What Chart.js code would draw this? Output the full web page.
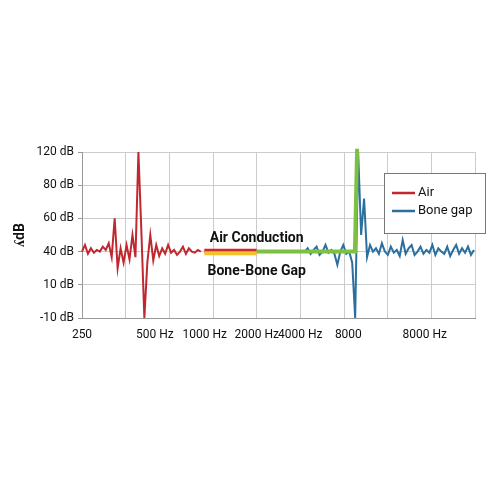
<!DOCTYPE html><html><head><script src="https://cdn.jsdelivr.net/npm/chart.js@4"></script>
<style>body{margin:0;background:#fff}#w{width:500px;height:500px}</style></head><body><div id="w"><canvas id="c"></canvas></div>
<script>
const yTickLabels=['-10 dB','10 dB','40 dB','60 dB','80 dB','120 dB'];
const yTickDb=[-10,10,40,60,80,120];
const xTickLabels=['250','500 Hz','1000 Hz','2000 Hz','4000 Hz','8000','8000 Hz'];
const xTickPos=[0,1.67,2.81,4.0,5.0,6.1,7.85];
const airStep=0.068;
const airDb=[40,44,38,42,39,41,40,43,41,45,35,60,25,42,30,44,33,50,35,120,52,-10,30,50,32,44,36,42,38,44,39,41,37,40,43,38,42,40,39,41,40];
const boneStart=5.1, boneStep=0.068;
const boneDb=[40,42,38,41,43,37,40,44,39,41,38,28,40,44,38,40,30,-10,120,50,72,35,44,40,42,38,45,40,37,43,39,41,36,47,38,42,44,37,40,43,38,41,39,44,37,42,40,38,43,36,41,44,38,42,39,43,37,41];
const airFlatX=[2.8,4.0], airFlatDb=[40.5,40.5];
const gapFlatX=[2.8,4.0], gapFlatDb=[38.5,38.5];
const greenX=[4.0,6.2,6.25,6.3], greenDb=[40,40,40,124];
function yPos(d){for(let i=0;i<yTickDb.length-1;i++){if(d<=yTickDb[i+1]||i==yTickDb.length-2){return i+(d-yTickDb[i])/(yTickDb[i+1]-yTickDb[i]);}}}
const pts=(xs,ds)=>ds.map((d,i)=>({x:xs[i],y:yPos(d)}));
const stepPts=(x0,s,ds)=>ds.map((d,i)=>({x:x0+i*s,y:yPos(d)}));
const labels={id:'lbl',afterDatasetsDraw(ch){const c=ch.ctx,xs=ch.scales.x,ys=ch.scales.y;c.save();c.font='bold 14px Roboto';c.fillStyle='#111';c.textAlign='center';
c.fillText('Air Conduction',xs.getPixelForValue(4.0),ys.getPixelForValue(yPos(40))-10);
c.fillText('Bone-Bone Gap',xs.getPixelForValue(4.0),ys.getPixelForValue(yPos(40))+23);
const L=384,T=173,W=101,H=60;c.fillStyle='#fff';c.fillRect(L,T,W,H);c.strokeStyle='#777';c.lineWidth=1;c.strokeRect(L+.5,T+.5,W,H);
c.font='13px Roboto';c.textAlign='left';c.textBaseline='middle';
[['Air','#c0282f',T+20],['Bone gap','#2a6f9e',T+38]].forEach(([t,col,y])=>{c.strokeStyle=col;c.lineWidth=2.5;c.beginPath();c.moveTo(392,y);c.lineTo(415,y);c.stroke();c.fillStyle='#111';c.fillText(t,418,y);});
c.restore();}};
new Chart(document.getElementById('c'),{type:'line',data:{datasets:[
{data:pts(gapFlatX,gapFlatDb),borderColor:'#f2c12e',borderWidth:4,pointRadius:0},
{data:pts(greenX,greenDb),borderColor:'#7dc142',borderWidth:4,pointRadius:0},
{data:pts(airFlatX,airFlatDb),borderColor:'#d0262c',borderWidth:4,pointRadius:0},
{data:stepPts(0,airStep,airDb),borderColor:'#c0282f',borderWidth:2,pointRadius:0,tension:0},
{data:stepPts(boneStart,boneStep,boneDb),borderColor:'#2a6f9e',borderWidth:2,pointRadius:0,tension:0}
]},plugins:[labels],options:{animation:false,responsive:true,maintainAspectRatio:false,clip:false,
layout:{padding:{top:152,bottom:160,right:25,left:8}},
plugins:{legend:{display:false},tooltip:{enabled:false}},
scales:{
x:{type:'linear',min:0,max:9,ticks:{display:false,stepSize:1},grid:{color:'#ccc',drawTicks:false},border:{color:'#999'},afterFit(s){s.height=0;}},
x2:{type:'linear',position:'bottom',min:0,max:9,grid:{display:false},border:{display:false},
afterBuildTicks(s){s.ticks=xTickPos.map(v=>({value:v}));},
ticks:{autoSkip:false,maxRotation:0,font:{family:'Roboto',size:12},color:'#111',padding:2,callback:(v,i)=>xTickLabels[i]},afterFit(s){s.height=22;}},
y:{type:'linear',min:0,max:5,afterBuildTicks(s){s.ticks=[0,0.5,1,1.5,2,2.5,3,3.5,4,4.5,5].map(v=>({value:v}));},
grid:{color:(c)=>Number.isInteger(c.tick.value)?'#ccc':'rgba(0,0,0,0)',tickColor:'#999',tickLength:4},border:{color:'#999'},
ticks:{font:{family:'Roboto',size:12},color:'#111',padding:4,callback:(v)=>Number.isInteger(v)?yTickLabels[v]:''},
title:{display:true,text:'ʎdB',font:{family:'Roboto',size:14,weight:'bold'},color:'#111'},afterFit(s){s.width=74;}}
}}});
</script></body></html>
